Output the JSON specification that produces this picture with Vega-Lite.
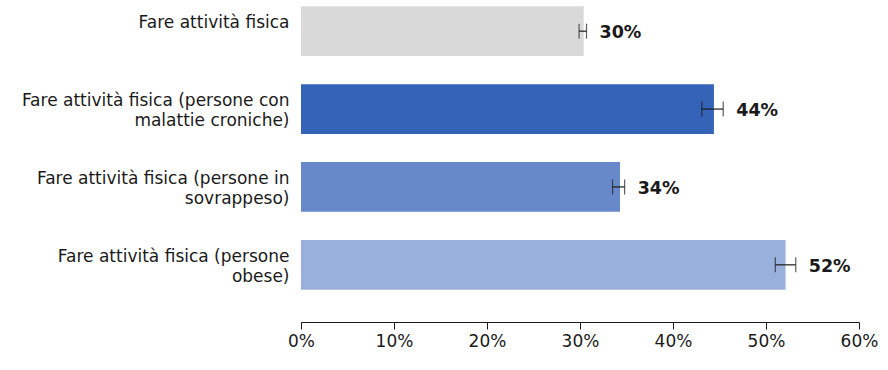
{
  "$schema": "https://vega.github.io/schema/vega-lite/v6.json",
  "autosize": {"type": "none"},
  "width": 558,
  "height": 296,
  "padding": {"left": 301, "top": 0, "right": 29, "bottom": 74},
  "background": "white",
  "config": {"view": {"stroke": null}, "font": "DejaVu Sans"},
  "data": {
    "values": [
      {"cat": "Fare attività fisica", "value": 0.304, "lo": 0.299, "hi": 0.307, "color": "#D9D9D9"},
      {"cat": "Fare attività fisica (persone con|malattie croniche)", "value": 0.444, "lo": 0.431, "hi": 0.454, "color": "#3563B7"},
      {"cat": "Fare attività fisica (persone in|sovrappeso)", "value": 0.343, "lo": 0.335, "hi": 0.348, "color": "#6789C9"},
      {"cat": "Fare attività fisica (persone|obese)", "value": 0.521, "lo": 0.510, "hi": 0.532, "color": "#9AB0DC"}
    ]
  },
  "encoding": {
    "y": {
      "field": "cat", "type": "nominal", "sort": null, "title": null,
      "scale": {"paddingInner": 0.36, "paddingOuter": 0.08},
      "axis": {"domain": false, "ticks": false, "labelPadding": 12, "labelFontSize": 17, "labelColor": "#1a1a1a", "labelLimit": 0, "labelLineHeight": 20, "labelOffset": -8, "labelExpr": "split(datum.value, '|')"}
    }
  },
  "layer": [
    {
      "mark": {"type": "bar"},
      "encoding": {
        "x": {"field": "value", "type": "quantitative", "title": null,
          "scale": {"domain": [0, 0.6], "nice": false},
          "axis": {"format": ".0%", "values": [0, 0.1, 0.2, 0.3, 0.4, 0.5, 0.6], "grid": false, "offset": 26, "domainColor": "#1a1a1a", "tickColor": "#1a1a1a", "tickSize": 7, "labelFontSize": 17, "labelColor": "#1a1a1a", "labelPadding": 4, "labelFlush": false}},
        "color": {"field": "color", "type": "nominal", "scale": null}
      }
    },
    {
      "mark": {"type": "rule", "color": "#1a1a1a", "strokeWidth": 1.2},
      "encoding": {"x": {"field": "lo", "type": "quantitative"}, "x2": {"field": "hi"}}
    },
    {
      "mark": {"type": "tick", "orient": "vertical", "color": "#1a1a1a", "size": 15, "thickness": 1.2},
      "encoding": {"x": {"field": "lo", "type": "quantitative"}}
    },
    {
      "mark": {"type": "tick", "orient": "vertical", "color": "#1a1a1a", "size": 15, "thickness": 1.2},
      "encoding": {"x": {"field": "hi", "type": "quantitative"}}
    },
    {
      "mark": {"type": "text", "align": "left", "baseline": "middle", "dx": 13, "dy": 2, "fontSize": 17.5, "fontWeight": "bold", "color": "#1a1a1a"},
      "encoding": {"x": {"field": "hi", "type": "quantitative"}, "text": {"field": "value", "type": "quantitative", "format": ".0%"}}
    }
  ]
}
